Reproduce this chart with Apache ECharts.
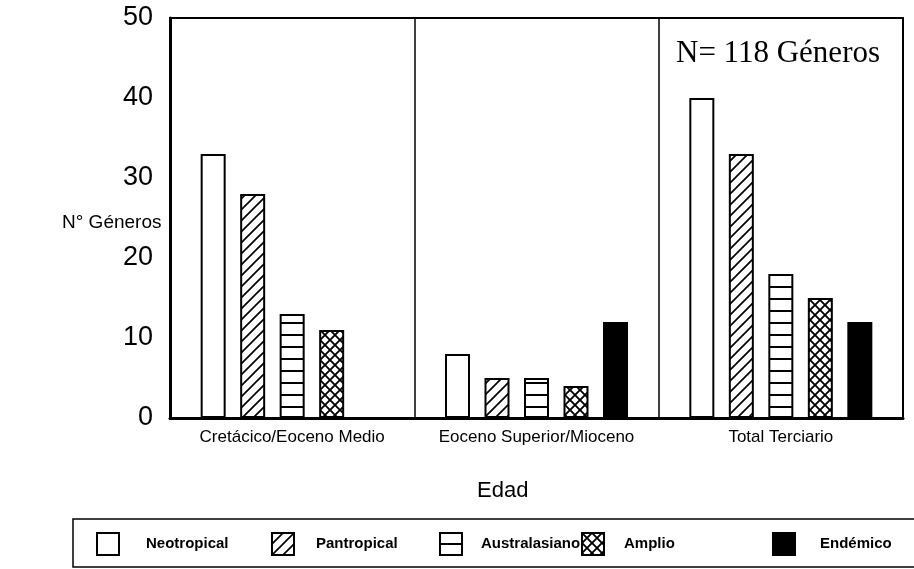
<!DOCTYPE html>
<html>
<head>
<meta charset="utf-8">
<script src="https://cdn.jsdelivr.net/npm/echarts@6/dist/echarts.min.js"></script>
<style>
html,body{margin:0;padding:0;background:#fff;}
#chart{width:914px;height:569px;}
</style>
</head>
<body>
<div id="chart"></div>
<script>
const categories = ['Cretácico/Eoceno Medio', 'Eoceno Superior/Mioceno', 'Total Terciario'];
const seriesNames = ['Neotropical', 'Pantropical', 'Australasiano', 'Amplio', 'Endémico'];
const neotropical = [33, 8, 40];
const pantropical = [28, 5, 33];
const australasiano = [13, 5, 18];
const amplio = [11, 4, 15];
const endemico = [0, 12, 12];
const yTicks = [0, 10, 20, 30, 40, 50];

function makePattern(kind) {
  const c = document.createElement('canvas');
  let s = 11;
  if (kind === 'horiz') s = 12;
  if (kind === 'cross') s = 10;
  c.width = s; c.height = s;
  const g = c.getContext('2d');
  g.fillStyle = '#fff';
  g.fillRect(0, 0, s, s);
  g.strokeStyle = '#000';
  g.lineCap = 'square';
  if (kind === 'diag') {
    g.lineWidth = 1.7;
    g.beginPath();
    g.moveTo(-1, s + 1); g.lineTo(s + 1, -1);
    g.moveTo(-1, 1); g.lineTo(1, -1);
    g.moveTo(s - 1, s + 1); g.lineTo(s + 1, s - 1);
    g.stroke();
  } else if (kind === 'horiz') {
    g.lineWidth = 2;
    g.beginPath();
    g.moveTo(0, s - 1); g.lineTo(s, s - 1);
    g.stroke();
  } else if (kind === 'cross') {
    g.lineWidth = 1.9;
    g.beginPath();
    g.moveTo(-1, -1); g.lineTo(s + 1, s + 1);
    g.moveTo(-1, s + 1); g.lineTo(s + 1, -1);
    g.stroke();
  }
  return { image: c, repeat: 'repeat' };
}

const fills = ['#ffffff', makePattern('diag'), makePattern('horiz'), makePattern('cross'), '#000000'];
const values = [neotropical, pantropical, australasiano, amplio, endemico];
const legendLeft = [96, 271, 439, 581, 772];
const legendTextPad = [22, 17, 14, 15, 20];

const chart = echarts.init(document.getElementById('chart'), null, { renderer: 'canvas' });

const series = seriesNames.map((name, i) => ({
  name: name,
  type: 'bar',
  data: values[i],
  barWidth: 25,
  barGap: '58%',
  itemStyle: { color: fills[i], borderColor: '#000', borderWidth: 2 },
  emphasis: { disabled: true },
  animation: false
}));

const legends = seriesNames.map((name, i) => ({
  data: [{ name: name, icon: 'rect', itemStyle: { color: fills[i], borderColor: '#000', borderWidth: 2 } }],
  left: legendLeft[i],
  top: 532,
  itemWidth: 22,
  itemHeight: 22,
  padding: 0,
  selectedMode: false,
  textStyle: {
    fontFamily: 'Liberation Sans',
    fontWeight: 'bold',
    fontSize: 15,
    color: '#000',
    padding: [0, 0, 0, legendTextPad[i]]
  }
}));

chart.setOption({
  animation: false,
  backgroundColor: '#fff',
  grid: {
    left: 170, right: 11, top: 18, bottom: 151,
    show: true, borderColor: '#000', borderWidth: 2, backgroundColor: 'transparent'
  },
  xAxis: {
    type: 'category',
    data: categories,
    axisLine: { lineStyle: { color: '#000', width: 3 } },
    axisTick: { show: false },
    splitLine: { show: true, interval: 0, lineStyle: { color: '#000', width: 1.5 } },
    axisLabel: { interval: 0, color: '#000', fontFamily: 'Liberation Sans', fontSize: 17, margin: 11 }
  },
  yAxis: {
    type: 'value',
    min: yTicks[0],
    max: yTicks[yTicks.length - 1],
    interval: 10,
    axisLine: { show: true, lineStyle: { color: '#000', width: 3 } },
    axisTick: { show: false },
    splitLine: { show: false },
    axisLabel: { color: '#000', fontFamily: 'Liberation Sans', fontSize: 27, margin: 17 }
  },
  legend: legends,
  graphic: [
    { type: 'text', left: 62, top: 213, style: { text: 'N° Géneros', fontFamily: 'Liberation Sans', fontSize: 19, fill: '#000' } },
    { type: 'text', left: 477, top: 480, style: { text: 'Edad', fontFamily: 'Liberation Sans', fontSize: 22, fill: '#000' } },
    { type: 'text', left: 676, top: 38, style: { text: 'N= 118 Géneros', fontFamily: 'Liberation Serif', fontSize: 31, fill: '#000' } },
    { type: 'rect', shape: { x: 73, y: 519, width: 900, height: 48 }, style: { fill: 'none', stroke: '#000', lineWidth: 1.5 }, z: -1 }
  ],
  series: series
});
</script>
</body>
</html>
